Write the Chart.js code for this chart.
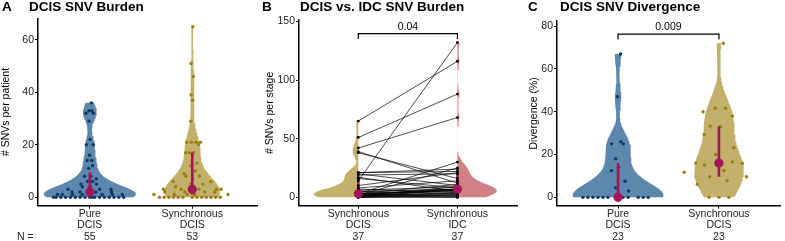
<!DOCTYPE html>
<html>
<head>
<meta charset="utf-8">
<script src="https://cdn.jsdelivr.net/npm/chart.js@4.4.1/dist/chart.umd.min.js"></script>
<style>
  body { margin: 0; background: #fff; }
  #fig { position: relative; width: 785px; height: 241px; overflow: hidden; }
  #fig canvas { position: absolute; top: 0; }
</style>
</head>
<body>
<div id="fig">
  <canvas id="burden" width="262" height="241" style="left:0"></canvas>
  <canvas id="paired" width="260" height="241" style="left:262px"></canvas>
  <canvas id="divergence" width="263" height="241" style="left:522px"></canvas>
</div>
<script>
// A - SNVs per patient
const burdenGroups = [['Pure', 'DCIS'], ['Synchronous', 'DCIS']];
const burdenN = [55, 53];
const burdenPure = [0, 0, 0, 0, 0, 0, 0, 0, 0, 0, 0, 0, 0, 0, 0, 0, 0, 1, 1, 1, 1, 1, 1, 1, 2, 2, 2, 2,
  3, 3, 3, 3, 4, 4, 5, 5, 6, 6, 7, 8, 8, 11, 12, 14, 14, 16, 20, 20, 22, 29, 32, 32, 33, 33, 36];
const burdenSync = [0, 0, 0, 0, 0, 0, 0, 0, 0, 0, 0, 0, 0, 1, 1, 1, 1, 1, 2, 2, 2, 2, 3, 3, 3, 3, 3,
  4, 5, 5, 6, 6, 7, 8, 8, 9, 10, 12, 13, 17, 17, 17, 20, 21, 21, 21, 21, 29, 37, 39, 46, 51, 65];
const burdenTicks = [0, 20, 40, 60];

// B - same patients, DCIS vs IDC (index i is one patient)
const stageGroups = [['Synchronous', 'DCIS'], ['Synchronous', 'IDC']];
const stageN = [37, 37];
const stageDcis = [65, 51, 42, 39, 38, 14, 3, 2, 21, 21, 20, 19, 16, 17, 10, 8, 7, 6, 5, 5,
  3, 3, 3, 3, 3, 2, 2, 2, 1, 1, 1, 1, 0, 0, 0, 0, 1];
const stageIdc = [116, 88, 68, 12, 16, 132, 30, 25, 24, 22, 10, 20, 8, 5, 21, 14, 4, 9, 7, 3,
  6, 11, 7, 2, 5, 7, 1, 3, 6, 2, 4, 0, 1, 7, 2, 0, 9];
const stageTicks = [0, 50, 100, 150];
const stageP = '0.04';
const stageBracket = [135, 139.6];

// C - divergence (%)
const divGroups = [['Pure', 'DCIS'], ['Synchronous', 'DCIS']];
const divN = [23, 23];
const divPure = [0, 0, 0, 0, 0, 0, 0, 0, 0, 0, 0, 0, 3, 4.5, 7.5, 12.5, 14, 18, 25, 25, 26, 47, 67];
const divSync = [0, 0, 0, 6.1, 7.8, 9.6, 9.6, 11.7, 12.4, 15.1, 15.9, 16, 16.6, 20, 23.2, 29.4,
  33, 33.3, 38, 40, 41.6, 41.6, 72];
const divTicks = [0, 20, 40, 60, 80];
const divP = '0.009';
const divBracket = [73.8, 76.3];

const FONT = "'Liberation Sans', Arial, Helvetica, sans-serif";
Chart.defaults.font.family = FONT;
Chart.defaults.animation = false;

const BLUE = '#5d87ac', BLUE_PT = '#0c3a66';
const GOLD = '#c3b16b', GOLD_PT = '#9a7e12';
const ROSE = '#cf8186';
const MED = '#a3145a';
const TXT = 10.5;

// stats helpers
function quantile(v, p) {
  const s = [...v].sort((a, b) => a - b);
  const h = (s.length - 1) * p, lo = Math.floor(h);
  const hi = Math.min(lo + 1, s.length - 1);
  return s[lo] + (h - lo) * (s[hi] - s[lo]);
}
function sd(v) {
  const m = v.reduce((a, b) => a + b, 0) / v.length;
  return Math.sqrt(v.reduce((a, b) => a + (b - m) ** 2, 0) / (v.length - 1));
}
function nrd0(v) {
  const hi = sd(v);
  let lo = Math.min(hi, (quantile(v, 0.75) - quantile(v, 0.25)) / 1.34);
  if (!lo) lo = hi || Math.abs(v[0]) || 1;
  return 0.9 * lo * Math.pow(v.length, -0.2);
}
function kde(v, bw) {
  const c = 1 / (v.length * bw * Math.sqrt(2 * Math.PI));
  return y => c * v.reduce((s, x) => s + Math.exp(-0.5 * ((y - x) / bw) ** 2), 0);
}
function span(v, n) {
  const lo = Math.min(...v), hi = Math.max(...v);
  const out = [];
  for (let i = 0; i < n; i++) out.push(lo + (hi - lo) * i / (n - 1));
  return out;
}
function vdc(i) {
  let r = 0, f = 0.5;
  while (i > 0) { r += f * (i & 1); i >>= 1; f /= 2; }
  return r;
}

// violin outlines (area scaled within a panel), side: both / left / right
function violins(groups, sides, fills) {
  const d = groups.map(g => {
    const f = kde(g, nrd0(g));
    const ys = span(g, 160);
    return { ys, ds: ys.map(f) };
  });
  const top = Math.max(...d.flatMap(e => e.ds));
  return d.map((e, i) => {
    const cx = i + 1;
    const hw = e.ds.map(v => 0.45 * v / top);
    const outer = e.ys.map((y, k) => ({ x: cx + (sides[i] === 'left' ? 0 : hw[k]), y }));
    const inner = e.ys.map((y, k) => ({ x: cx - (sides[i] === 'right' ? 0 : hw[k]), y })).reverse();
    return {
      type: 'line', data: outer.concat(inner), showLine: true, fill: 'shape',
      backgroundColor: fills[i], borderColor: 'rgba(0,0,0,0)', borderWidth: 0,
      pointRadius: 0, tension: 0, order: 9
    };
  });
}

// quasirandom spread of points, like ggbeeswarm
function swarm(v, cx, color) {
  const f = kde(v, nrd0(v) * 0.5);
  const maxD = Math.max(...span(v, 200).map(f));
  const idx = v.map((_, i) => i).sort((a, b) => v[a] - v[b] || a - b);
  const rank = [];
  idx.forEach((j, r) => { rank[j] = r + 1; });
  const pts = v.map((y, i) => ({ x: cx + (vdc(rank[i]) - 0.5) * 2 * 0.4 * f(y) / maxD, y }));
  return { type: 'scatter', data: pts, backgroundColor: color, pointRadius: 1.7, borderWidth: 0, order: 5 };
}

function summary(v, cx, lineOrder) {
  return [
    { type: 'line', data: [{ x: cx, y: quantile(v, 0.25) }, { x: cx, y: quantile(v, 0.75) }],
      borderColor: MED, borderWidth: 2.6, pointRadius: 0, order: lineOrder },
    { type: 'scatter', data: [{ x: cx, y: quantile(v, 0.5) }],
      backgroundColor: MED, pointRadius: 4.6, borderWidth: 0, order: 1 }
  ];
}

function bracket(b) {
  return {
    type: 'line', data: [{ x: 1, y: b[0] }, { x: 1, y: b[1] }, { x: 2, y: b[1] }, { x: 2, y: b[0] }],
    borderColor: '#000', borderWidth: 1.2, pointRadius: 0, order: 0
  };
}

function axes(o) {
  const grid = { display: true, drawOnChartArea: false, tickLength: 3, color: '#000', lineWidth: 1 };
  const border = { display: true, color: '#000', width: 1.5 };
  return {
    x: {
      type: 'linear', min: o.xMin, max: o.xMax,
      afterBuildTicks: s => { s.ticks = [{ value: 1 }, { value: 2 }]; },
      afterFit: s => { s.height = 35.3; },
      ticks: {
        callback: v => [...o.groups[v - 1], String(o.n[v - 1])],
        color: '#222', font: { size: TXT, lineHeight: 1.1 }, padding: -0.6, maxRotation: 0, autoSkip: false
      },
      grid, border
    },
    y: {
      type: 'linear', min: o.yMin, max: o.yMax,
      afterBuildTicks: s => { s.ticks = o.ticks.map(v => ({ value: v })); },
      afterFit: s => { s.width = o.left; },
      ticks: { color: '#222', font: { size: TXT }, padding: 1 },
      grid, border,
      title: { display: true, text: o.yTitle, color: '#000', font: { size: TXT }, padding: { top: o.titlePad, bottom: 0 } }
    }
  };
}

const annot = {
  id: 'annot',
  afterDraw(chart, args, o) {
    const ctx = chart.ctx;
    ctx.save();
    ctx.fillStyle = '#000';
    ctx.textAlign = 'left';
    ctx.textBaseline = 'alphabetic';
    ctx.font = 'bold 13.5px ' + FONT;
    ctx.fillText(o.letter, o.letterX, 11);
    ctx.fillText(o.title, o.titleX, 11);
    if (o.p) {
      const x = chart.scales.x.getPixelForValue(1.5);
      const y = chart.scales.y.getPixelForValue(o.pY);
      ctx.font = TXT + 'px ' + FONT;
      ctx.textAlign = 'center';
      ctx.textBaseline = 'middle';
      ctx.fillText(o.p, x, y - 6.8);
    }
    if (o.nLabel) {
      ctx.font = TXT + 'px ' + FONT;
      ctx.fillStyle = '#222';
      ctx.textAlign = 'left';
      ctx.textBaseline = 'middle';
      ctx.fillText(o.nLabel, 17, 236.9);
    }
    ctx.restore();
  }
};

function baseOptions(pad, scales, ann) {
  return {
    responsive: false, events: [],
    layout: { padding: pad },
    plugins: { legend: { display: false }, tooltip: { enabled: false }, annot: ann },
    scales
  };
}

// A
new Chart(document.getElementById('burden'), {
  type: 'scatter',
  data: {
    datasets: [
      ...violins([burdenPure, burdenSync], ['both', 'both'], [BLUE, GOLD]),
      swarm(burdenPure, 1, BLUE_PT),
      swarm(burdenSync, 2, GOLD_PT),
      ...summary(burdenPure, 1, 2),
      ...summary(burdenSync, 2, 2)
    ]
  },
  options: baseOptions({ top: 18.3, right: 4, left: 0, bottom: 0 },
    axes({ xMin: 0.494, xMax: 2.636, yMin: -3.25, yMax: 68.25, ticks: burdenTicks,
      groups: burdenGroups, n: burdenN, yTitle: '# SNVs per patient', titlePad: 0, left: 38 }),
    { letter: 'A', letterX: 2, title: 'DCIS SNV Burden', titleX: 29, nLabel: 'N =' }),
  plugins: [annot]
});

// B
new Chart(document.getElementById('paired'), {
  type: 'scatter',
  data: {
    datasets: [
      ...violins([stageDcis, stageIdc], ['left', 'right'], [GOLD, ROSE]),
      ...stageDcis.map((d, i) => ({
        type: 'line', data: [{ x: 1, y: d }, { x: 2, y: stageIdc[i] }],
        borderColor: '#000', borderWidth: 0.7, pointRadius: 1.4,
        pointBackgroundColor: '#000', pointBorderWidth: 0, order: 3
      })),
      ...summary(stageDcis, 1, 4),
      ...summary(stageIdc, 2, 4),
      bracket(stageBracket)
    ]
  },
  options: baseOptions({ top: 20, right: 2, left: 0, bottom: 0 },
    axes({ xMin: 0.4018, xMax: 2.605, yMin: -7.2, yMax: 151.2, ticks: stageTicks,
      groups: stageGroups, n: stageN, yTitle: '# SNVs per stage', titlePad: 2, left: 37 }),
    { letter: 'B', letterX: 0, title: 'DCIS vs. IDC SNV Burden', titleX: 38, p: stageP, pY: stageBracket[1] }),
  plugins: [annot]
});

// C
new Chart(document.getElementById('divergence'), {
  type: 'scatter',
  data: {
    datasets: [
      ...violins([divPure, divSync], ['both', 'both'], [BLUE, GOLD]),
      swarm(divPure, 1, BLUE_PT),
      swarm(divSync, 2, GOLD_PT),
      ...summary(divPure, 1, 2),
      ...summary(divSync, 2, 2),
      bracket(divBracket)
    ]
  },
  options: baseOptions({ top: 21, right: 0, left: 0, bottom: 0 },
    axes({ xMin: 0.395, xMax: 2.609, yMin: -3.9, yMax: 82.4, ticks: divTicks,
      groups: divGroups, n: divN, yTitle: 'Divergence (%)', titlePad: 6, left: 35 }),
    { letter: 'C', letterX: 6, title: 'DCIS SNV Divergence', titleX: 38, p: divP, pY: divBracket[1] }),
  plugins: [annot]
});
</script>
</body>
</html>
